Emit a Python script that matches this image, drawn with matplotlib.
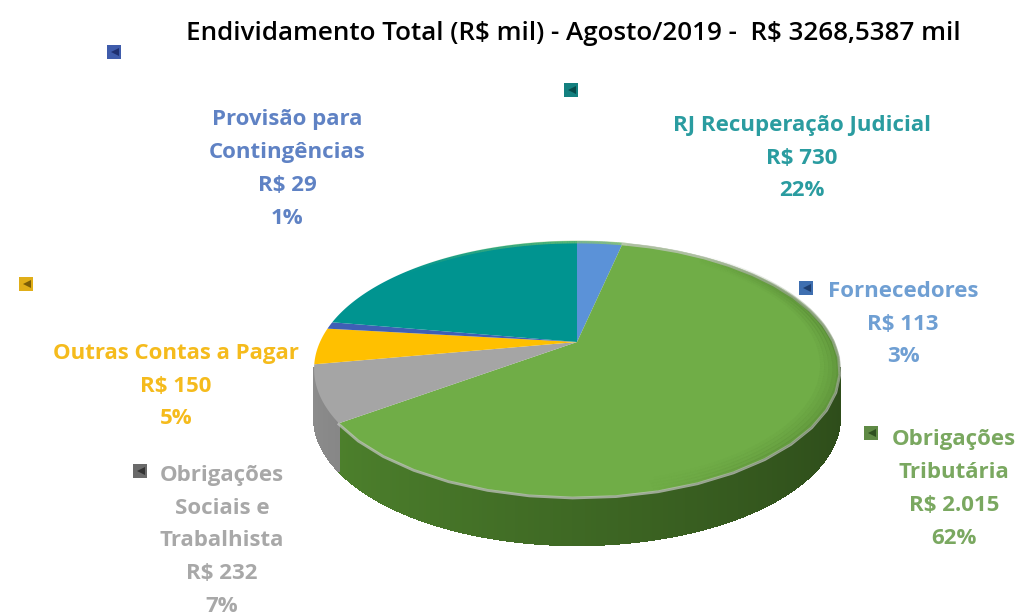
import numpy as np
import matplotlib
matplotlib.use('Agg')
import matplotlib.pyplot as plt
from matplotlib.collections import LineCollection

# data, clockwise from 12 o'clock
names = ['Fornecedores', 'Obrigações\nTributária', 'Obrigações\nSociais e\nTrabalhista',
         'Outras Contas a Pagar', 'Provisão para\nContingências', 'RJ Recuperação Judicial']
values = [113, 2015, 232, 150, 29, 730]
value_labels = ['R\\$ 113', 'R\\$ 2.015', 'R\\$ 232', 'R\\$ 150', 'R\\$ 29', 'R\\$ 730']
percents = ['3%', '62%', '7%', '5%', '1%', '22%']
title = 'Endividamento Total (R\\$ mil) - Agosto/2019 -  R\\$ 3268,5387 mil'

colors = ['#5b92d8', '#70ad47', '#a5a5a5', '#ffc000', '#3f5fb5', '#009490']
wall_colors = ['#3a5f20', '#3d6623', '#6c6c6c', '#a87f00', '#2a4080', '#006462']
text_colors = ['#6f9fd3', '#7aa860', '#a8a8a8', '#f5bb1c', '#5f82c4', '#2a9ca0']
label_pos = [(903, 324), (954, 489), (222, 541), (176, 386), (287, 169), (802, 158)]
key_pos = [(806, 288), (871, 433), (140, 471), (26, 284), (114, 52), (571, 90)]
key_colors = ['#3f6fb0', '#5f8a45', '#6a6a6a', '#e0ae18', '#3f5cab', '#14807f']
key_darks = ['#1f3f70', '#2f5020', '#333333', '#7a5d08', '#1f3070', '#074a4a']

# pie geometry in pixels, with the perspective of the 3D chart
apex_x, apex_y = 577, 342
k = 0.211
a = 122.3
b = 257
depth = 48


def project(theta, r=1.0):
    x = r * np.sin(theta)
    y = r * np.cos(theta)
    w = 1 + k * y
    return apex_x + b * x / w, apex_y - a * y / w


fig = plt.figure(figsize=(10.2, 6.15), dpi=100)
ax = fig.add_axes([0, 0, 1, 1])
ax.set_xlim(0, 1020)
ax.set_ylim(615, 0)
ax.axis('off')

edges = np.cumsum([0] + values) / sum(values) * 2 * np.pi

# side wall, drawn as strips so it can darken to the right
for i in range(len(values)):
    th = np.linspace(edges[i], edges[i + 1], max(int((edges[i + 1] - edges[i]) * 120), 2))
    for t0, t1 in zip(th[:-1], th[1:]):
        x0, y0 = project(t0)
        x1, y1 = project(t1)
        if np.cos((t0 + t1) / 2) > -0.2:
            continue
        shade = 1.02 - 0.28 * np.sin((t0 + t1) / 2)
        col = np.clip(np.array(matplotlib.colors.to_rgb(wall_colors[i])) * shade, 0, 1)
        ax.fill([x0, x1, x1, x0], [y0, y1, y1 + depth, y0 + depth], color=col, lw=1,
                antialiased=False, zorder=2)

# top surface
for i in range(len(values)):
    th = np.linspace(edges[i], edges[i + 1], 200)
    xs, ys = project(th)
    ax.fill(np.r_[apex_x, xs], np.r_[apex_y, ys], color=colors[i], lw=0, zorder=3)

# lighter rim on the front of the surface
th = np.linspace(edges[1] + 0.02, edges[1] - 1.1, 100)
xs, ys = project(th)
pts = np.column_stack([xs, ys + 1])
segs = np.stack([pts[:-1], pts[1:]], axis=1)
ax.add_collection(LineCollection(segs, colors='#8fcb63', linewidths=2,
                                 alpha=np.linspace(0.8, 0, 99), zorder=4))
th = np.linspace(edges[2], edges[1], 30)
xs, ys = project(th)
ax.plot(xs, ys + 1, color='#c8c8c8', lw=2, alpha=0.7, zorder=4)

# darker bevel on the right of the surface, fading out at both ends
th = np.linspace(0.6, 2.9, 120)
fade = np.sin((th[:-1] - 0.6) / 2.3 * np.pi)
for r, al in zip([0.995, 0.98, 0.965, 0.95, 0.935], [0.3, 0.22, 0.15, 0.1, 0.05]):
    xs, ys = project(th, r)
    pts = np.column_stack([xs, ys])
    segs = np.stack([pts[:-1], pts[1:]], axis=1)
    ax.add_collection(LineCollection(segs, colors='#3a5f20', linewidths=3,
                                     alpha=al * fade, zorder=4))

for i in range(len(values)):
    lines = names[i] + '\n' + value_labels[i] + '\n' + percents[i]
    ax.text(label_pos[i][0], label_pos[i][1], lines, color=text_colors[i], ha='center', va='center',
            family='Open Sans', weight='bold', fontsize=16, linespacing=1.73, zorder=5)
    ax.plot(key_pos[i][0], key_pos[i][1], 's', ms=9.5, color=key_colors[i], mew=0, zorder=5)
    ax.plot(key_pos[i][0] + 1, key_pos[i][1], '<', ms=6, color=key_darks[i], mew=0, zorder=6)

ax.text(573, 34, title, color='black', ha='center', va='center',
        family='Open Sans', weight='semibold', fontsize=18.7)

fig.savefig('out.png', dpi=100)
